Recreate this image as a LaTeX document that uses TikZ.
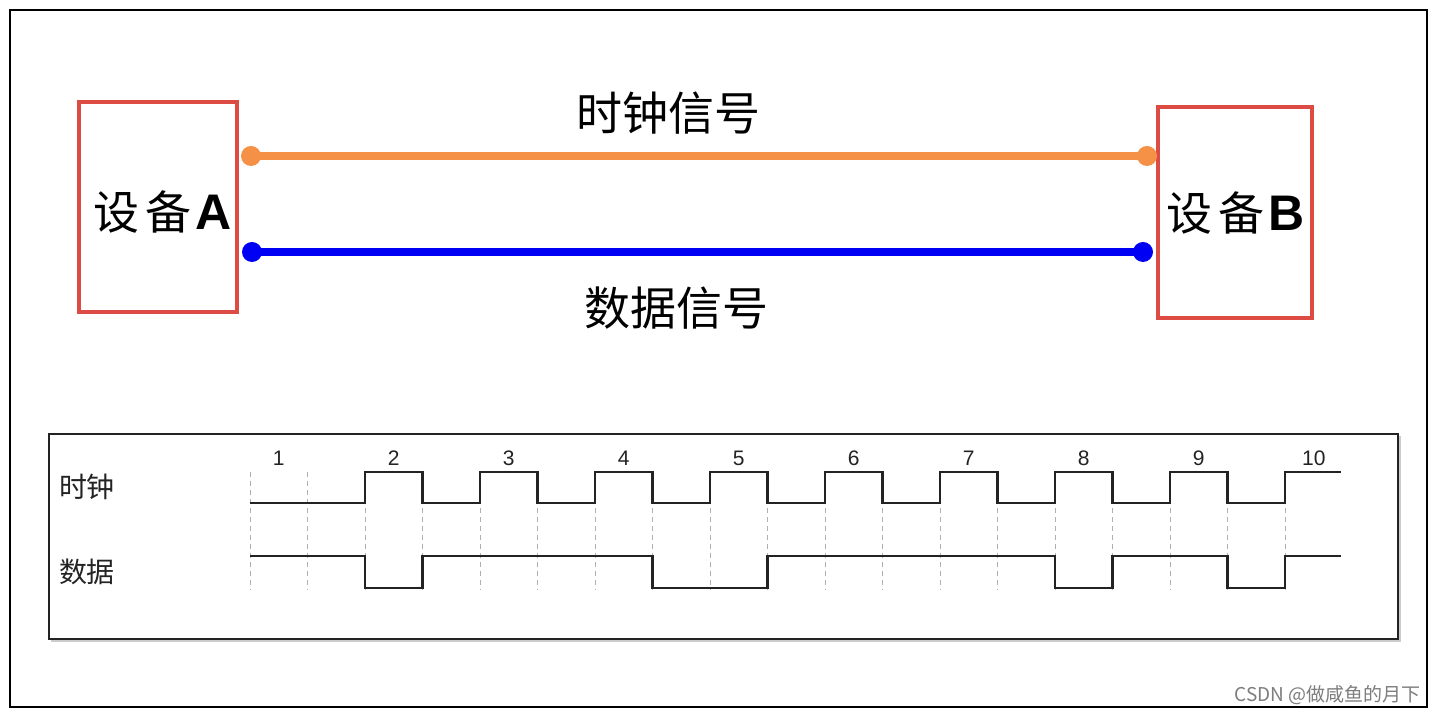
\documentclass[tikz,border=0pt]{standalone}
\usepackage{fontspec}
\setmainfont{Liberation Sans}
\newfontfamily\cjk{Noto Sans CJK SC}
\definecolor{boxred}{RGB}{221,75,69}
\definecolor{clkorange}{RGB}{244,145,70}
\definecolor{datblue}{RGB}{0,0,245}
\definecolor{wavegray}{RGB}{35,35,35}
\definecolor{gridgray}{RGB}{175,175,175}
\definecolor{markgray}{RGB}{125,125,125}
\begin{document}
\begin{tikzpicture}[x=0.5pt,y=-0.5pt,
  devbox/.style={draw=boxred,line width=2pt,rectangle,inner sep=0pt},
  devlabel/.style={font=\fontsize{23}{26}\selectfont},
  siglabel/.style={font=\cjk\fontsize{23}{26}\selectfont},
  orangewire/.style={draw=clkorange,line width=4.3pt},
  bluewire/.style={draw=datblue,line width=4.3pt},
  griddash/.style={draw=gridgray,line width=0.5pt,dash pattern=on 2.5pt off 2pt},
  wave/.style={draw=wavegray,line width=1.1pt},
  numlabel/.style={font=\fontsize{10.5}{12}\selectfont,text=wavegray},
  rowlabel/.style={font=\cjk\fontsize{14}{16}\selectfont,text=wavegray}]
\useasboundingbox (0,0) rectangle (1437,715);
\fill[white] (0,0) rectangle (1437,715);
\draw[line width=1.1pt] (10,10) rectangle (1427,707);

% devices
\node[devbox,minimum width=79pt,minimum height=105pt] (A) at (158,207) {};
\node[devbox,minimum width=77pt,minimum height=105.5pt] (B) at (1235,212.5) {};
\node[devlabel] (Atext) at (163,212) {\cjk 设\hspace{3pt}备\hspace{2pt}\normalfont\fontsize{25}{27}\selectfont\bfseries A};
\node[devlabel] (Btext) at (1236,213) {\cjk 设\hspace{3pt}备\hspace{2pt}\normalfont\fontsize{25}{27}\selectfont\bfseries B};

% wires
\coordinate (c1) at (251,156);
\coordinate (c2) at (1147,156);
\coordinate (d1) at (252,252);
\coordinate (d2) at (1143,252);
\draw[orangewire] (c1) -- (c2);
\fill[clkorange] (c1) circle (5pt) (c2) circle (5pt);
\draw[bluewire] (d1) -- (d2);
\fill[datblue] (d1) circle (5pt) (d2) circle (5pt);
\node[siglabel] (clk) at (668,113) {时钟信号};
\node[siglabel] (dat) at (676,308) {数据信号};

% timing panel
\fill[gray!40] (51,436) rectangle (1401,642);
\fill[white] (49,434) rectangle (1398,639);
\draw[line width=1pt,draw=wavegray] (49,434) rectangle (1398,639);

\foreach \i in {0,...,18} \draw[griddash] ({250+57.5*\i},472) -- ({250+57.5*\i},590);

\draw[wave] (250,503) -- (365,503) -- (365,472) -- (422.5,472) -- (422.5,503) -- (480,503) -- (480,472) -- (537.5,472) -- (537.5,503) -- (595,503) -- (595,472) -- (652.5,472) -- (652.5,503) -- (710,503) -- (710,472) -- (767.5,472) -- (767.5,503) -- (825,503) -- (825,472) -- (882.5,472) -- (882.5,503) -- (940,503) -- (940,472) -- (997.5,472) -- (997.5,503) -- (1055,503) -- (1055,472) -- (1112.5,472) -- (1112.5,503) -- (1170,503) -- (1170,472) -- (1227.5,472) -- (1227.5,503) -- (1285,503) -- (1285,472) -- (1341,472);

\draw[wave] (250,556) -- (365,556) -- (365,588) -- (422.5,588) -- (422.5,556) -- (652.5,556) -- (652.5,588) -- (767.5,588) -- (767.5,556) -- (1055,556) -- (1055,588) -- (1112.5,588) -- (1112.5,556) -- (1227.5,556) -- (1227.5,588) -- (1285,588) -- (1285,556) -- (1341,556);

\foreach \k in {1,...,10} \node[numlabel] (n\k) at ({278.75+115*(\k-1)},458) {\k};

\node[rowlabel] (rclk) at (87,487) {时钟};
\node[rowlabel] (rdat) at (87,572) {数据};

\node[anchor=east,text=markgray,font=\cjk\fontsize{9.5}{11}\selectfont] (wm) at (1428,695) {CSDN @做咸鱼的月下};
\end{tikzpicture}
\end{document}
